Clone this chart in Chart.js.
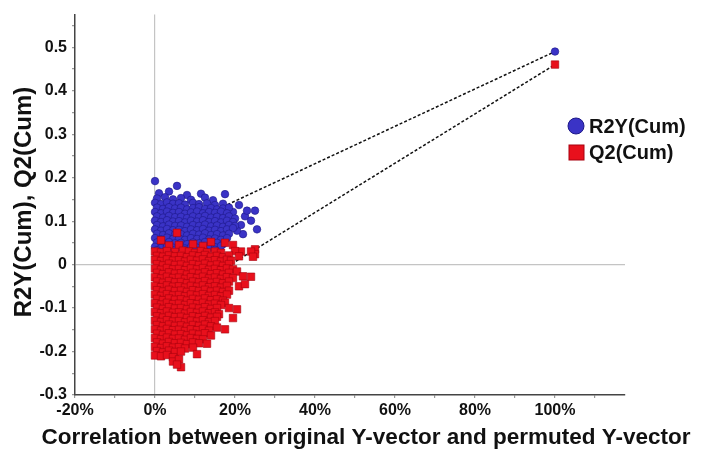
<!DOCTYPE html>
<html>
<head>
<meta charset="utf-8">
<script src="https://cdn.jsdelivr.net/npm/chart.js@4/dist/chart.umd.min.js"></script>
<style>
  html, body { margin: 0; padding: 0; background: #fff; }
  #wrap { width: 706px; height: 456px; }
</style>
</head>
<body>
<div id="wrap"><canvas id="c" width="706" height="456"></canvas></div>
<script>
// Permutation test: R2Y(cum) and Q2(cum) of permuted models vs. correlation
// between the original and the permuted Y-vector (x in %, y as value).
const r2yPoints = [
  [0,.192],[5.5,.181],[1,.164],[3.5,.168],[8,.160],[11.5,.163],[17.5,.162],[21,.137],[25,.124],
  [22.5,.111],[24,.101],[25.5,.081],[22,.070],[21.5,.091],[19.5,.121],[23,.124],[20.5,.078],
  [0.5,.152],[2.5,.155],[4.5,.150],[6.5,.153],[9,.149],[12.5,.154],[14.5,.148],
  [0,.142],[1.5,.139],[3,.143],[4.5,.140],[6,.141],[7.5,.138],[9.5,.142],[11,.139],[13,.141],[15,.137],[17,.140],
  [0.5,.131],[2,.128],[3.5,.132],[5,.129],[6.5,.131],[8,.127],[9.5,.130],[11,.132],[12.5,.128],[14,.130],[15.5,.127],[17,.129],[18.5,.131],
  [0,.121],[1.5,.118],[3,.122],[4.5,.119],[6,.121],[7.5,.117],[9,.120],[10.5,.122],[12,.118],[13.5,.121],[15,.119],[16.5,.122],[18,.118],
  [0.5,.111],[2,.108],[3.5,.112],[5,.109],[6.5,.110],[8,.107],[9.5,.111],[11,.109],[12.5,.112],[14,.108],[15.5,.110],[17,.107],[18.5,.111],[20,.106],
  [0,.101],[1.5,.098],[3,.102],[4.5,.099],[6,.100],[7.5,.097],[9,.101],[10.5,.099],[12,.102],[13.5,.098],[15,.100],[16.5,.097],[18,.101],[19.5,.098],
  [0.5,.091],[2,.088],[3.5,.092],[5,.089],[6.5,.090],[8,.087],[9.5,.091],[11,.089],[12.5,.092],[14,.088],[15.5,.090],[17,.087],[18.5,.091],[20,.089],
  [0,.081],[1.5,.078],[3,.082],[4.5,.079],[6,.080],[7.5,.077],[9,.081],[10.5,.079],[12,.082],[13.5,.078],[15,.080],[16.5,.077],[18,.081],[19.5,.084],
  [0.5,.071],[2,.068],[3.5,.072],[5,.069],[6.5,.070],[8,.067],[9.5,.071],[11,.069],[12.5,.072],[14,.068],[15.5,.070],[17,.067],[18.5,.071],
  [0,.061],[1.5,.058],[3,.062],[4.5,.059],[6,.060],[7.5,.057],[9,.061],[10.5,.059],[12,.062],[13.5,.058],[15,.060],[16.5,.057],[18,.061],
  [0.5,.051],[2,.048],[3.5,.052],[5,.049],[6.5,.050],[8,.047],[9.5,.051],[11,.049],[12.5,.052],[14,.048],[15.5,.050],[17,.047],
  [0,.041],[1.5,.038],[3,.042],[4.5,.039],[6,.040],[7.5,.037],[9,.041],[10.5,.039],[12,.042],[13.5,.038],[15,.040],[16.5,.043],
  [0.5,.033],[2.5,.031],[5,.034],[7.5,.032],[10,.033],[12.5,.031],[15,.034],
  [100,.490]
];
const q2Points = [
  [5.5,.073],[1.5,.056],[14,.052],[17.5,.050],[9.5,.047],[6,.045],[19.5,.045],[25,.035],[25,.024],[24,.030],[21.5,.030],[20,.031],[12,.043],[3.5,.044],
  [0,.030],[1.5,.028],[3,.031],[5,.029],[7,.032],[8.5,.030],[10,.027],[11.5,.031],[13,.028],[15,.030],[16.5,.027],
  [0.5,.020],[2,.018],[3.5,.021],[5,.019],[6.5,.020],[8,.017],[9.5,.021],[11,.019],[12.5,.022],[14,.018],[15.5,.020],[17,.017],[18.5,.021],[21,.019],[24.5,.018],
  [0,.011],[1.5,.008],[3,.012],[4.5,.009],[6,.010],[7.5,.007],[9,.011],[10.5,.009],[12,.012],[13.5,.008],[15,.010],[16.5,.007],[18,.011],[19,.009],
  [0.5,.001],[2,-.002],[3.5,.002],[5,-.001],[6.5,.000],[8,-.003],[9.5,.001],[11,-.001],[12.5,.002],[14,-.002],[15.5,.000],[17,-.003],[18.5,.001],
  [0,-.009],[1.5,-.012],[3,-.008],[4.5,-.011],[6,-.010],[7.5,-.013],[9,-.009],[10.5,-.011],[12,-.008],[13.5,-.012],[15,-.010],[16.5,-.013],[18,-.009],[19.5,-.011],[20.5,-.016],
  [0.5,-.019],[2,-.022],[3.5,-.018],[5,-.021],[6.5,-.020],[8,-.023],[9.5,-.019],[11,-.021],[12.5,-.018],[14,-.022],[15.5,-.020],[17,-.023],[18.5,-.019],[22,-.027],
  [0,-.029],[1.5,-.032],[3,-.028],[4.5,-.031],[6,-.030],[7.5,-.033],[9,-.029],[10.5,-.031],[12,-.028],[13.5,-.032],[15,-.030],[16.5,-.033],[18,-.029],[19.5,-.031],[24,-.028],
  [0.5,-.039],[2,-.042],[3.5,-.038],[5,-.041],[6.5,-.040],[8,-.043],[9.5,-.039],[11,-.041],[12.5,-.038],[14,-.042],[15.5,-.040],[17,-.043],[18.5,-.039],
  [0,-.049],[1.5,-.052],[3,-.048],[4.5,-.051],[6,-.050],[7.5,-.053],[9,-.049],[10.5,-.051],[12,-.048],[13.5,-.052],[15,-.050],[16.5,-.053],[18,-.049],[21,-.050],[22.5,-.045],
  [0.5,-.059],[2,-.062],[3.5,-.058],[5,-.061],[6.5,-.060],[8,-.063],[9.5,-.059],[11,-.061],[12.5,-.058],[14,-.062],[15.5,-.060],[17,-.063],[18.5,-.060],
  [0,-.069],[1.5,-.072],[3,-.068],[4.5,-.071],[6,-.070],[7.5,-.073],[9,-.069],[10.5,-.071],[12,-.068],[13.5,-.072],[15,-.070],[16.5,-.073],[18,-.069],
  [0.5,-.079],[2,-.082],[3.5,-.078],[5,-.081],[6.5,-.080],[8,-.083],[9.5,-.079],[11,-.081],[12.5,-.078],[14,-.082],[15.5,-.080],[17,-.083],[17.5,-.088],
  [0,-.089],[1.5,-.092],[3,-.088],[4.5,-.091],[6,-.090],[7.5,-.093],[9,-.089],[10.5,-.091],[12,-.088],[13.5,-.092],[15,-.090],[16.5,-.093],
  [0.5,-.099],[2,-.102],[3.5,-.098],[5,-.101],[6.5,-.100],[8,-.103],[9.5,-.099],[11,-.101],[12.5,-.098],[14,-.102],[15.5,-.100],[18.5,-.100],[20.5,-.103],
  [0,-.109],[1.5,-.112],[3,-.108],[4.5,-.111],[6,-.110],[7.5,-.113],[9,-.109],[10.5,-.111],[12,-.108],[13.5,-.112],[15,-.110],[16,-.114],
  [0.5,-.119],[2,-.122],[3.5,-.118],[5,-.121],[6.5,-.120],[8,-.123],[9.5,-.119],[11,-.121],[12.5,-.118],[14,-.122],[15.5,-.120],[19.5,-.123],
  [0,-.129],[1.5,-.132],[3,-.128],[4.5,-.131],[6,-.130],[7.5,-.133],[9,-.129],[10.5,-.131],[12,-.128],[13.5,-.132],[15,-.130],
  [0.5,-.139],[2,-.142],[3.5,-.138],[5,-.141],[6.5,-.140],[8,-.143],[9.5,-.139],[11,-.141],[12.5,-.138],[14,-.142],[15.5,-.145],
  [0,-.149],[1.5,-.152],[3,-.148],[4.5,-.151],[6,-.150],[7.5,-.153],[9,-.149],[10.5,-.151],[12,-.148],[13.5,-.152],[17.5,-.149],
  [0.5,-.159],[2,-.162],[3.5,-.158],[5,-.161],[6.5,-.160],[8,-.163],[9.5,-.159],[11,-.161],[12.5,-.158],[14,-.163],
  [0,-.169],[1.5,-.172],[3,-.168],[4.5,-.171],[6,-.170],[7.5,-.173],[9,-.169],[10.5,-.171],[12,-.172],
  [0.5,-.179],[2,-.182],[3.5,-.178],[5,-.181],[6.5,-.180],[8,-.183],[9.5,-.179],[11,-.181],[13,-.182],
  [0,-.189],[1.5,-.192],[3,-.188],[4.5,-.191],[6,-.190],[7.5,-.193],[9.5,-.191],
  [0.5,-.199],[2,-.202],[3.5,-.198],[5,-.201],[6.5,-.200],[10.5,-.206],
  [0,-.209],[1.5,-.211],[3,-.208],[4.5,-.213],
  [4.5,-.223],[6,-.218],[6.5,-.236],[5.5,-.230],
  [100,.460]
];
// Regression lines: intercept at 0 % and the original model at 100 %
const r2yLine = [[0, .060], [100, .490]];
const q2Line  = [[0, -.107], [100, .460]];

const xTicks = [-20,-10,0,10,20,30,40,50,60,70,80,90,100,110];
const yTicks = [-0.3,-0.25,-0.2,-0.15,-0.1,-0.05,0,0.05,0.1,0.15,0.2,0.25,0.3,0.35,0.4,0.45,0.5,0.55];

const FONT = '"Liberation Sans", Arial, sans-serif';
const BLUE = '#3a33c6', BLUE_EDGE = '#1d1888';
const RED = '#e8101c', RED_EDGE = '#a8000e';

const toXY = arr => arr.map(([x, y]) => ({ x, y }));

const overlay = {
  id: 'overlay',
  afterDraw(chart) {
    const ctx = chart.ctx;
    ctx.save();
    ctx.fillStyle = '#111';
    ctx.textAlign = 'center';
    ctx.textBaseline = 'middle';
    ctx.font = 'bold 22.5px ' + FONT;
    ctx.fillText('Correlation between original Y-vector and permuted Y-vector', 366, 438);
    ctx.save();
    ctx.translate(24, 202);
    ctx.rotate(-Math.PI / 2);
    ctx.font = 'bold 24px ' + FONT;
    ctx.fillText('R2Y(Cum), Q2(Cum)', 0, 0);
    ctx.restore();
    // legend
    ctx.lineWidth = 1;
    ctx.beginPath();
    ctx.arc(576, 126, 8, 0, Math.PI * 2);
    ctx.fillStyle = BLUE; ctx.fill();
    ctx.strokeStyle = BLUE_EDGE; ctx.stroke();
    ctx.fillStyle = RED;
    ctx.fillRect(569, 145, 15, 15);
    ctx.strokeStyle = RED_EDGE;
    ctx.strokeRect(569, 145, 15, 15);
    ctx.fillStyle = '#111';
    ctx.font = 'bold 20px ' + FONT;
    ctx.textAlign = 'left';
    ctx.fillText('R2Y(Cum)', 589, 127);
    ctx.fillText('Q2(Cum)', 589, 153);
    ctx.restore();
  }
};

new Chart(document.getElementById('c'), {
  type: 'scatter',
  data: {
    datasets: [
      { type: 'line', data: toXY(r2yLine), borderColor: '#111', borderWidth: 1.5, borderDash: [3, 2],
        pointRadius: 0, fill: false, order: 4 },
      { type: 'line', data: toXY(q2Line), borderColor: '#111', borderWidth: 1.5, borderDash: [3, 2],
        pointRadius: 0, fill: false, order: 3 },
      { label: 'R2Y(Cum)', data: toXY(r2yPoints), pointStyle: 'circle', pointRadius: 3.8,
        backgroundColor: BLUE, borderColor: BLUE_EDGE, borderWidth: 0.6, order: 2 },
      { label: 'Q2(Cum)', data: toXY(q2Points), pointStyle: 'rect', pointRadius: 5.3,
        backgroundColor: RED, borderColor: RED_EDGE, borderWidth: 0.6, order: 1 }
    ]
  },
  options: {
    responsive: false,
    animation: false,
    events: [],
    layout: { padding: { left: 0, right: 81, top: 10, bottom: 0 } },
    plugins: { legend: { display: false }, tooltip: { enabled: false } },
    scales: {
      x: {
        type: 'linear', min: -20, max: 117.5,
        afterBuildTicks: a => { a.ticks = xTicks.map(v => ({ value: v })); },
        afterFit: s => { s.height = 61; },
        border: { color: '#444', width: 1.5 },
        grid: {
          drawOnChartArea: true, drawTicks: true, tickLength: 3,
          color: c => (c.tick && c.tick.value === 0) ? '#c4c4c4' : 'rgba(0,0,0,0)',
          tickColor: '#999', lineWidth: 1.2
        },
        ticks: {
          autoSkip: false, maxRotation: 0, padding: 3, color: '#111',
          font: { family: FONT, size: 16, weight: 'bold' },
          callback: v => (Math.round(v) % 20 === 0) ? Math.round(v) + '%' : ''
        }
      },
      y: {
        type: 'linear', min: -0.3, max: 0.575,
        afterBuildTicks: a => { a.ticks = yTicks.map(v => ({ value: v })); },
        afterFit: s => { s.width = 75; },
        border: { color: '#444', width: 1.5 },
        grid: {
          drawOnChartArea: true, drawTicks: true, tickLength: 3,
          color: c => (c.tick && Math.abs(c.tick.value) < 1e-9) ? '#c4c4c4' : 'rgba(0,0,0,0)',
          tickColor: '#999', lineWidth: 1.2
        },
        ticks: {
          autoSkip: false, padding: 5, color: '#111',
          font: { family: FONT, size: 16, weight: 'bold' },
          callback: v => {
            const k = Math.round(v * 100);
            return (k % 10 === 0) ? String(k / 100) : '';
          }
        }
      }
    }
  },
  plugins: [overlay]
});
</script>
</body>
</html>
